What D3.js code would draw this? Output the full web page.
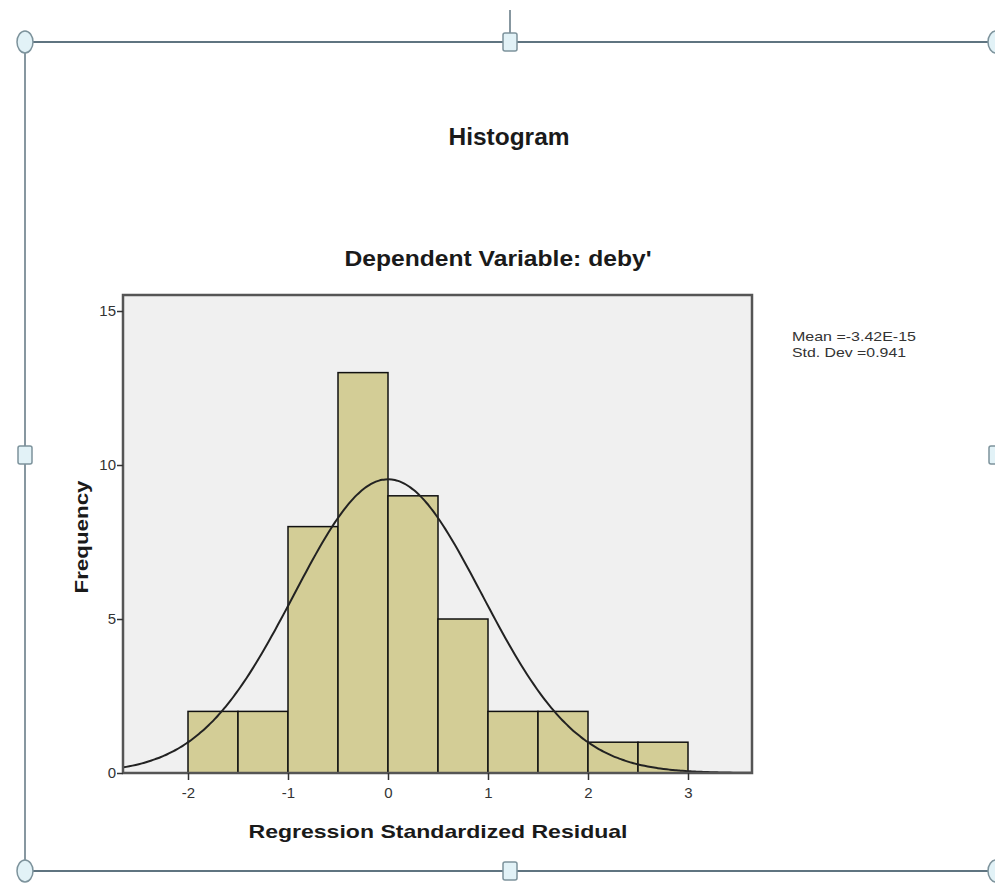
<!DOCTYPE html>
<html lang="en">
<head>
  <meta charset="UTF-8">
  <title>Histogram - Regression Standardized Residual</title>
  <script src="https://d3js.org/d3.v7.min.js"></script>
  <style>
    body { margin: 0; background: #fff; }
    text { font-family: "Liberation Sans", Arial, sans-serif; }
  </style>
</head>
<body>
<div id="chart"></div>
<script>
// histogram bins (width 0.5) and counts
const binStarts = [-2, -1.5, -1, -0.5, 0, 0.5, 1, 1.5, 2, 2.5];
const counts = [2, 2, 8, 13, 9, 5, 2, 2, 1, 1];
const binWidth = 0.5;
const xTicks = [-2, -1, 0, 1, 2, 3];
const yTicks = [0, 5, 10, 15];
const stats = { mean: 0, sd: 0.941 };   // shown as Mean =-3.42E-15, Std. Dev =0.941
const statLabels = ["Mean =-3.42E-15", "Std. Dev =0.941"];

const W = 995, H = 883;
const svg = d3.select("#chart").append("svg")
  .attr("width", W).attr("height", H);

// ---- selection frame (object handles) ----
const frame = svg.append("g");
const lineCol = "#5f7480";
frame.append("line").attr("x1", 25).attr("x2", 997).attr("y1", 42).attr("y2", 42)
  .attr("stroke", lineCol).attr("stroke-width", 2);
frame.append("line").attr("x1", 25).attr("x2", 997).attr("y1", 871).attr("y2", 871)
  .attr("stroke", lineCol).attr("stroke-width", 2);
frame.append("line").attr("x1", 25).attr("x2", 25).attr("y1", 42).attr("y2", 871)
  .attr("stroke", lineCol).attr("stroke-width", 1.5);
frame.append("line").attr("x1", 997).attr("x2", 997).attr("y1", 42).attr("y2", 871)
  .attr("stroke", lineCol).attr("stroke-width", 1.5);
frame.append("line").attr("x1", 510).attr("x2", 510).attr("y1", 10).attr("y2", 42)
  .attr("stroke", lineCol).attr("stroke-width", 1.5);

const handleFill = "#e2f2f7", handleStroke = "#7d939c";
[[25, 42], [996, 42], [25, 871], [996, 871]].forEach(([cx, cy]) => {
  frame.append("ellipse").attr("cx", cx).attr("cy", cy).attr("rx", 8).attr("ry", 11)
    .attr("fill", handleFill).attr("stroke", handleStroke).attr("stroke-width", 1.5);
});
[[510, 42], [510, 871], [25, 455], [996, 455]].forEach(([cx, cy]) => {
  frame.append("rect").attr("x", cx - 7).attr("y", cy - 9).attr("width", 14).attr("height", 18)
    .attr("rx", 2)
    .attr("fill", handleFill).attr("stroke", handleStroke).attr("stroke-width", 1.5);
});

// ---- chart ----
const plot = { left: 123, right: 752, top: 295, bottom: 773 };
const x = d3.scaleLinear().domain([-2.65, 3.64]).range([plot.left, plot.right]);
const y = d3.scaleLinear().domain([0, 15.52]).range([plot.bottom, plot.top]);

// titles (the source picture is stretched a bit horizontally)
svg.append("text").attr("x", 509).attr("y", 145).attr("text-anchor", "middle")
  .attr("font-size", 23).attr("font-weight", "bold").attr("fill", "#1a1a1a")
  .attr("textLength", 121).attr("lengthAdjust", "spacingAndGlyphs")
  .text("Histogram");
svg.append("text").attr("x", 498).attr("y", 266).attr("text-anchor", "middle")
  .attr("font-size", 22).attr("font-weight", "bold").attr("fill", "#1a1a1a")
  .attr("textLength", 307).attr("lengthAdjust", "spacingAndGlyphs")
  .text("Dependent Variable: deby'");

// plot background
svg.append("rect")
  .attr("x", plot.left).attr("y", plot.top)
  .attr("width", plot.right - plot.left).attr("height", plot.bottom - plot.top)
  .attr("fill", "#f0f0f0");

// bars
svg.append("g").selectAll("rect")
  .data(binStarts)
  .join("rect")
  .attr("x", (d) => x(d))
  .attr("y", (d, i) => y(counts[i]))
  .attr("width", (d) => x(d + binWidth) - x(d))
  .attr("height", (d, i) => y(0) - y(counts[i]))
  .attr("fill", "#d3cd96")
  .attr("stroke", "#111")
  .attr("stroke-width", 1.5);

// normal curve from mean / sd / N
const N = d3.sum(counts);
const curveXs = d3.range(200).map((i) => x.domain()[0] + i * (x.domain()[1] - x.domain()[0]) / 199);
const dens = (v) => N * binWidth / (stats.sd * Math.sqrt(2 * Math.PI)) *
  Math.exp(-0.5 * Math.pow((v - stats.mean) / stats.sd, 2));
svg.append("path")
  .datum(curveXs)
  .attr("fill", "none")
  .attr("stroke", "#222")
  .attr("stroke-width", 2)
  .attr("d", d3.line().x((d) => x(d)).y((d) => y(dens(d))).curve(d3.curveBasis));

// plot border
svg.append("rect")
  .attr("x", plot.left).attr("y", plot.top)
  .attr("width", plot.right - plot.left).attr("height", plot.bottom - plot.top)
  .attr("fill", "none").attr("stroke", "#555").attr("stroke-width", 2.5);

// axes
const fmt = (d) => String(d);
const xAxis = svg.append("g")
  .attr("transform", `translate(0,${plot.bottom})`)
  .call(d3.axisBottom(x).tickValues(xTicks).tickFormat(fmt).tickSize(7).tickPadding(7));
const yAxis = svg.append("g")
  .attr("transform", `translate(${plot.left},0)`)
  .call(d3.axisLeft(y).tickValues(yTicks).tickFormat(fmt).tickSize(6).tickPadding(1));
[xAxis, yAxis].forEach((g) => {
  g.select(".domain").remove();
  g.selectAll(".tick line").attr("stroke", "#333").attr("stroke-width", 1.5);
  g.selectAll(".tick text").attr("font-size", 15).attr("fill", "#333")
    .attr("font-family", "'Liberation Sans Narrow', 'Liberation Sans', Arial, sans-serif");
});

// axis titles
svg.append("text").attr("x", 438).attr("y", 838).attr("text-anchor", "middle")
  .attr("font-size", 19).attr("font-weight", "bold").attr("fill", "#1a1a1a")
  .attr("textLength", 379).attr("lengthAdjust", "spacingAndGlyphs")
  .text("Regression Standardized Residual");
svg.append("text")
  .attr("transform", "translate(88,537) rotate(-90)")
  .attr("text-anchor", "middle")
  .attr("font-size", 19).attr("font-weight", "bold").attr("fill", "#1a1a1a")
  .attr("textLength", 113).attr("lengthAdjust", "spacingAndGlyphs")
  .text("Frequency");

// stats legend
const statWidths = [124, 114];
svg.append("g").selectAll("text")
  .data(statLabels)
  .join("text")
  .attr("x", 792)
  .attr("y", (d, i) => 341 + i * 16)
  .attr("font-size", 13).attr("fill", "#333")
  .attr("textLength", (d, i) => statWidths[i]).attr("lengthAdjust", "spacingAndGlyphs")
  .text((d) => d);
</script>
</body>
</html>
